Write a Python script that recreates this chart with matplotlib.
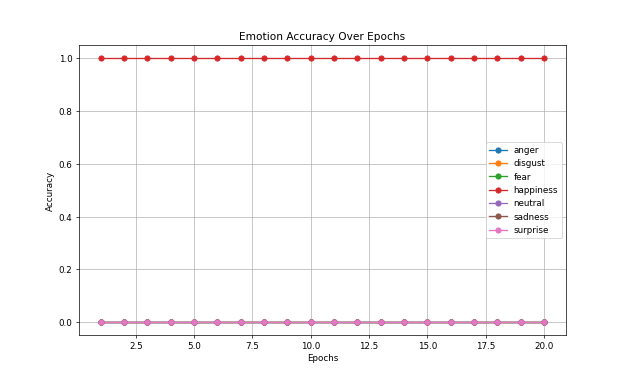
import matplotlib
matplotlib.use("Agg")
import matplotlib.pyplot as plt

epochs = list(range(1, 21))
emotions = ["anger", "disgust", "fear", "happiness", "neutral", "sadness", "surprise"]
anger = [0.0] * 20
disgust = [0.0] * 20
fear = [0.0] * 20
happiness = [1.0] * 20
neutral = [0.0] * 20
sadness = [0.0] * 20
surprise = [0.0] * 20
series = [anger, disgust, fear, happiness, neutral, sadness, surprise]

fig, ax = plt.subplots(figsize=(10, 6), dpi=62.9)
for name, vals in zip(emotions, series):
    ax.plot(epochs, vals, marker="o", label=name)
ax.set_title("Emotion Accuracy Over Epochs")
ax.set_xlabel("Epochs")
ax.set_ylabel("Accuracy")
ax.legend(loc="center right")
ax.grid(True)
fig.savefig("out.png", dpi=62.9)
